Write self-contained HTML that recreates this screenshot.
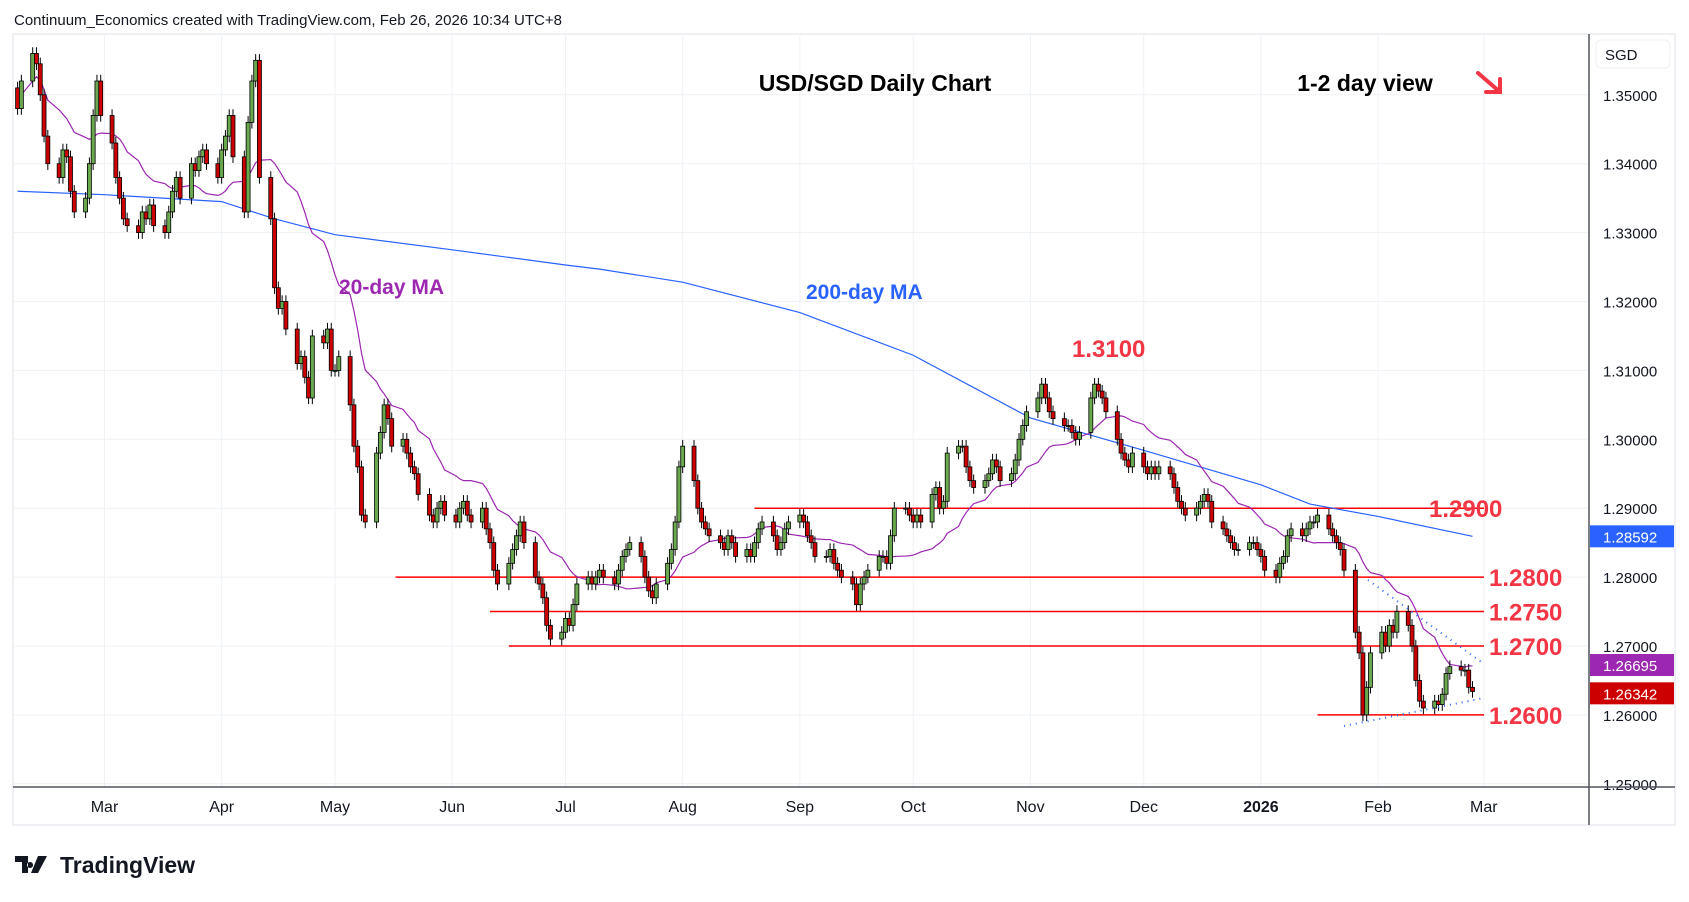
<!DOCTYPE html>
<html><head><meta charset="utf-8"><style>
body{margin:0;background:#fff;width:1689px;height:902px;overflow:hidden;font-family:"Liberation Sans",sans-serif}
svg{position:absolute;left:0;top:0}
</style></head><body>
<svg id="c" width="1689" height="902"></svg>
<script>
const closes=[
3480,3520,3560,3545,3500,3440,3400,3380,3420,3410,3360,3330,3350,3400,3470,3520,3470,
3430,3380,3350,3320,3310,3300,3330,3320,3340,3310,3300,3330,3360,3380,3350,3400,3390,3410,3420,3400,3380,
3420,3440,3470,3410,3330,3460,3520,3550,3380,3320,3220,3190,3200,3160,3110,3120,3090,3060,3150,3140,3160,3100,
3100,3120,3050,2990,2960,2890,2880,2980,3010,3050,3030,2990,3000,2980,2960,2950,2920,2890,2880,2900,2910,2890,
2880,2900,2910,2890,2880,2900,2870,2850,2810,2790,2820,2840,2860,2880,2850,2800,2790,2770,2730,2710,2720,
2740,2730,2760,2790,2800,2790,2800,2810,2800,2790,2810,2830,2840,2850,2830,2800,2780,2770,2790,2820,2840,2880,2960,
2990,2940,2900,2880,2870,2860,2850,2840,2860,2850,2830,2840,2830,2850,2870,2880,2860,2840,2850,2870,2880,
2890,2880,2860,2850,2830,2830,2840,2820,2810,2800,2790,2760,2790,2800,2810,2830,2830,2820,2860,2900,2900,2890,
2880,2890,2880,2920,2930,2900,2910,2980,2990,2990,2960,2940,2930,2940,2950,2970,2960,2940,2950,2970,3000,3020,3040,
3060,3080,3060,3040,3030,3020,3020,3010,3000,3010,3060,3080,3070,3060,3040,3000,2980,2970,2960,2980,
2960,2950,2960,2950,2960,2950,2930,2910,2900,2890,2900,2910,2920,2910,2880,2870,2860,2850,2840,2840,2850,2850,2840,
2830,2810,2800,2820,2830,2860,2870,2860,2870,2880,2880,2890,2870,2860,2850,2840,2810,2720,2690,2600,2640,2690,
2720,2700,2730,2720,2750,2730,2700,2650,2620,2610,2620,2615,2630,2660,2670,2665,2665,2640,2634];
const ma200Dates=["2025-02-06","2025-03-01","2025-04-01","2025-04-15","2025-05-01","2025-06-01","2025-07-01","2025-07-10","2025-08-01","2025-09-01","2025-10-01","2025-11-01","2025-12-01","2026-01-01","2026-01-14","2026-02-01","2026-02-26"];
const ma200Vals=[1.3360,1.3355,1.3345,1.3320,1.3297,1.3275,1.3253,1.3247,1.3228,1.3184,1.3122,1.3031,1.2984,1.2934,1.2906,1.2888,1.28592];
const levels=[1.29,1.28,1.275,1.27,1.26];
const levelStart=["2025-08-20","2025-05-17","2025-06-11","2025-06-16","2026-01-16"];
const priceTicks=[1.35,1.34,1.33,1.32,1.31,1.30,1.29,1.28,1.27,1.26,1.25];
const monthLabels=["Mar","Apr","May","Jun","Jul","Aug","Sep","Oct","Nov","Dec","2026","Feb","Mar"];
const monthDates=["2025-03-01","2025-04-01","2025-05-01","2025-06-01","2025-07-01","2025-08-01","2025-09-01","2025-10-01","2025-11-01","2025-12-01","2026-01-01","2026-02-01","2026-03-01"];

const S=document.getElementById('c'),NS="http://www.w3.org/2000/svg";
const T0=Date.UTC(2025,2,1);
function dnum(s){const p=s.split('-');return (Date.UTC(+p[0],p[1]-1,+p[2])-T0)/864e5;}
function X(d){return 104.5+d*3.779;}
function Y(p){return 94.8+(1.35-p)*6890;}
function el(t,a,par){const e=document.createElementNS(NS,t);for(const k in a)e.setAttribute(k,a[k]);(par||S).appendChild(e);return e;}
const L=13,R=1589,TOP=34,BOT=787;
let e=el('rect',{x:L,y:TOP,width:1675-L,height:825-TOP,fill:'#fff',stroke:'#eef0f3','stroke-width':2});

priceTicks.forEach(p=>{let g=el('line',{x1:L,x2:R,y1:Y(p),y2:Y(p),stroke:'#eef1f6'});
 let t=el('text',{x:1603,y:Y(p)+6,'font-size':15,fill:'#131722'});t.textContent=p.toFixed(5);});
monthDates.forEach((d,i)=>{const x=X(dnum(d));let g=el('line',{x1:x,x2:x,y1:TOP,y2:BOT,stroke:'#eef1f6'});
 let t=el('text',{x:x,y:812,'font-size':16,fill:'#131722','text-anchor':'middle','font-weight':monthLabels[i]==='2026'?'bold':'normal'});t.textContent=monthLabels[i];});
e=el('line',{x1:L,x2:1675,y1:BOT,y2:BOT,stroke:'#50535e','stroke-width':1.5});
e=el('line',{x1:R,x2:R,y1:TOP,y2:825,stroke:'#50535e','stroke-width':1.5});
e=el('rect',{x:1596,y:40,width:74,height:28,rx:5,fill:'#fff',stroke:'#eef0f3'});
e=el('text',{x:1605,y:60,'font-size':15,fill:'#131722'});e.textContent='SGD';
const dates=[];let cur=Date.UTC(2026,1,26);
while(dates.length<closes.length){const wd=new Date(cur).getUTCDay();if(wd!==0&&wd!==6)dates.unshift((cur-T0)/864e5);cur-=864e5;}
levels.forEach((p,i)=>{let g=el('line',{x1:X(dnum(levelStart[i])),x2:1484,y1:Y(p),y2:Y(p),stroke:'#ff0000','stroke-width':1.5});
 let t=el('text',{x:p===1.29?1429:1489,y:Y(p)+9,'font-size':24,fill:'#f23645','font-weight':'bold'});t.textContent=p.toFixed(4);});
let pts=ma200Dates.map((d,i)=>X(dnum(d))+','+Y(ma200Vals[i])).join(' ');
e=el('polyline',{points:pts,fill:'none',stroke:'#2962ff','stroke-width':1.2});
const P=closes.map(c=>1+c/10000);
let mp=[];P.forEach((c,i)=>{const s=P.slice(Math.max(0,i-19),i+1);mp.push(X(dates[i])+','+Y(s.reduce((a,b)=>a+b,0)/s.length));});
e=el('polyline',{points:mp.join(' '),fill:'none',stroke:'#9c27b0','stroke-width':1.2});
P.forEach((c,i)=>{const o=i?P[i-1]:c+0.003;const x=X(dates[i]);const hi=Math.max(o,c)+0.0009,lo=Math.min(o,c)-0.0009;
 const g=el('g',{});
 el('line',{x1:x,x2:x,y1:Y(hi),y2:Y(lo),stroke:'#000','stroke-width':1},g);
 const t=Y(Math.max(o,c)),b=Y(Math.min(o,c));
 el('rect',{x:x-2,y:t,width:4,height:Math.max(1,b-t),fill:c>=o?'#6aa84f':'#cc0000',stroke:'#000','stroke-width':0.8},g);});
e=el('line',{x1:1368,y1:580,x2:1484,y2:664,stroke:'#2962ff','stroke-width':2,'stroke-dasharray':'1,5'});
e=el('line',{x1:1344,y1:726,x2:1484,y2:698,stroke:'#2962ff','stroke-width':2,'stroke-dasharray':'1,5'});
[[1.28592,'#2962ff','ma200-price-badge'],[1.26695,'#9c27b0','ma20-price-badge'],[1.26342,'#cc0000','last-price-badge']].forEach((b,i)=>{
 const yy=i===2?Y(b[0])+2:(i===1?Y(b[0])-2:Y(b[0]));
 let r=el('rect',{x:1590,y:yy-11,width:84,height:22,fill:b[1]});
 let t=el('text',{x:1603,y:yy+6,'font-size':15,fill:'#fff'});t.textContent=b[0].toFixed(5);});
function txt(s,x,y,sz,col,name,w,anc){let t=el('text',{x:x,y:y,'font-size':sz,fill:col,'font-weight':w||'normal','text-anchor':anc||'start'});t.textContent=s;}
txt('Continuum_Economics created with TradingView.com, Feb 26, 2026 10:34 UTC+8',14,25,15,'#131722','header-caption');
txt('USD/SGD Daily Chart',875,91,23,'#000','chart-title','bold','middle');
txt('1-2 day view',1365,91,23,'#000','view-label','bold','middle');
txt('20-day MA',339,294,21,'#9c27b0','ma20-label','bold');
txt('200-day MA',806,299,21,'#2962ff','ma200-label','bold');
txt('1.3100',1072,357,24,'#f23645','high-label','bold');
e=el('path',{d:'M1478,73 L1500,92 M1486,92 L1500,92 L1500,79',fill:'none',stroke:'#f23645','stroke-width':4,'stroke-linecap':'round'});
e=el('path',{d:'M15,856 h13 v17 h-6 v-11 h-7 z M30,862 a3,3 0 1 0 0.1,0 M38,856 h9 l-9,17 h-7 z',fill:'#131722'});
txt('TradingView',60,873,23,'#131722','tradingview-logo','bold');
</script>
</body></html>
